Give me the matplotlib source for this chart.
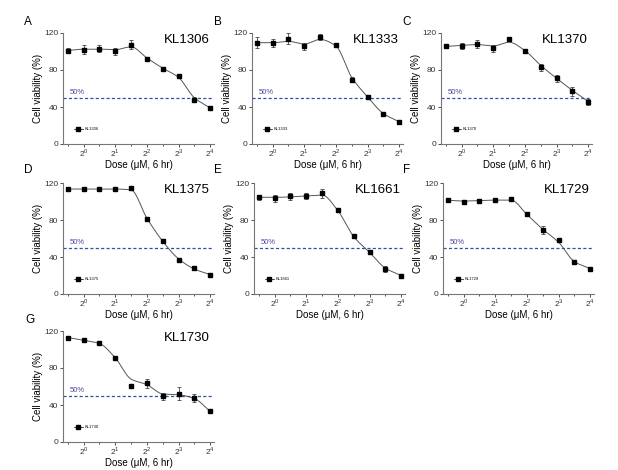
import numpy as np
import matplotlib
matplotlib.use('Agg')
import matplotlib.pyplot as plt

plt.rcParams['font.family'] = ['Liberation Sans', 'DejaVu Sans']
plt.rcParams['mathtext.fontset'] = 'custom'
plt.rcParams['mathtext.rm'] = 'Liberation Sans'

# dose as log2(uM)
dose = [-0.5, 0, 0.5, 1, 1.5, 2, 2.5, 3, 3.5, 4]

letters = ['A', 'B', 'C', 'D', 'E', 'F', 'G']
names = ['KL1306', 'KL1333', 'KL1370', 'KL1375', 'KL1661', 'KL1729', 'KL1730']

via_A = [101, 102, 103, 100, 107.5, 92, 81, 73, 48, 39]
err_A = [3, 5, 4, 4, 5, 2, 2, 2, 3, 2]
fit_A = [101, 102.5, 102.5, 102, 105, 93, 82, 72, 50, 39]

via_B = [109.5, 109, 114, 105.5, 115.5, 107, 69.5, 51, 32, 23.5]
err_B = [6, 4, 6, 4, 3, 2, 3, 2, 2, 1]
fit_B = [109.5, 109.5, 111, 108, 113, 106, 72, 51, 33, 24]

via_C = [105.5, 106, 108, 103.5, 113, 101, 83, 71, 57, 45.5]
err_C = [2, 3, 4, 4, 2, 1, 4, 4, 5, 3]
fit_C = [105.5, 106.5, 107.5, 106, 110, 101, 85, 71, 58, 46]

via_D = [113.5, 113.5, 113.5, 113, 114.5, 81.5, 57.5, 37, 28, 21]
err_D = [2, 2, 1, 1, 2, 1, 1, 2, 2, 1]
fit_D = [113.5, 113.5, 113.5, 113.5, 112.5, 82, 57, 38, 27, 21]

via_E = [104.5, 103.5, 105.5, 106, 109, 90.5, 63, 45.5, 27, 20]
err_E = [3, 4, 4, 3, 5, 2, 2, 2, 3, 1]
fit_E = [104.5, 104.5, 105, 106, 107, 90, 62, 45, 28, 20]

via_F = [102, 100, 100.5, 102, 103, 86, 69, 58, 34.5, 27.5]
err_F = [1, 2, 1, 1, 2, 2, 4, 2, 1, 1]
fit_F = [101.5, 100.5, 101, 101.5, 101.5, 86, 70, 56, 35, 27.5]

via_G = [112.5, 110, 107.5, 91, 60.5, 63.5, 49.5, 52, 47.5, 33]
err_G = [2, 2, 2, 2, 2, 5, 4, 7, 4, 1]
fit_G = [113, 110, 106.5, 91, 68, 62, 52, 51, 47, 33]

vias = [via_A, via_B, via_C, via_D, via_E, via_F, via_G]
errs = [err_A, err_B, err_C, err_D, err_E, err_F, err_G]
fits = [fit_A, fit_B, fit_C, fit_D, fit_E, fit_F, fit_G]


def pchip(x, y, xn):
    x = np.asarray(x, float)
    y = np.asarray(y, float)
    h = np.diff(x)
    d = np.diff(y) / h
    m = np.zeros_like(y)
    m[0] = d[0]
    m[-1] = d[-1]
    for i in range(1, len(y) - 1):
        if d[i - 1] * d[i] > 0:
            m[i] = 2 * d[i - 1] * d[i] / (d[i - 1] + d[i])
    idx = np.clip(np.searchsorted(x, xn) - 1, 0, len(h) - 1)
    t = (xn - x[idx]) / h[idx]
    h00 = 2 * t**3 - 3 * t**2 + 1
    h10 = t**3 - 2 * t**2 + t
    h01 = -2 * t**3 + 3 * t**2
    h11 = t**3 - t**2
    return h00 * y[idx] + h10 * h[idx] * m[idx] + h01 * y[idx + 1] + h11 * h[idx] * m[idx + 1]


W, H = 618, 470
fig = plt.figure(figsize=(W / 100, H / 100), dpi=100)

lefts = [63, 252, 441, 63, 254, 443, 63]
tops = [33, 33, 33, 183, 183, 183, 331]
letter_pos = [(28, 22), (218, 22), (407, 22), (28, 170), (218, 170), (407, 170), (30, 320)]
aw, ah = 151, 111

xs = np.linspace(dose[0], dose[-1], 300)

for k in range(7):
    ax = fig.add_axes([lefts[k] / W, 1 - (tops[k] + ah) / H, aw / W, ah / H])
    ax.plot(xs, pchip(dose, fits[k], xs), color='#555555', lw=0.7, zorder=2)
    ax.errorbar(dose, vias[k], yerr=errs[k], fmt='s', color='black', ms=3.0,
                elinewidth=0.6, ecolor='#444444', capsize=1.5, capthick=0.6, zorder=3)
    ax.plot([], [], '-s', color='black', ms=2.2, lw=0.5, label=names[k])
    ax.axhline(50, color='#3050a0', lw=0.9, ls=(0, (2.5, 1.8)), zorder=1)
    ax.text(-0.45, 52, '50%', color='#4a4aa0', fontsize=5.5, va='bottom')
    ax.text(0.97, 0.94, names[k], transform=ax.transAxes, ha='right', va='center', fontsize=9.5)
    ax.legend(loc='lower left', bbox_to_anchor=(0.06, 0.1), frameon=False, fontsize=3,
              handlelength=2.2, handletextpad=0.3, borderaxespad=0)

    ax.set_xlim(-0.65, 4.12)
    ax.set_ylim(0, 120)
    ax.set_yticks([0, 40, 80, 120])
    ax.set_xticks([0, 1, 2, 3, 4])
    ax.set_xticklabels(['$2^{%d}$' % i for i in range(5)])
    ax.set_xticks([-0.5, 0.5, 1.5, 2.5, 3.5], minor=True)
    ax.tick_params(labelsize=6, length=2, width=0.6, colors='#333333', pad=1.5)
    ax.tick_params(axis='x', pad=0.5)
    ax.tick_params(which='minor', length=1.5, width=0.6, colors='#333333')
    for s in ['top', 'right']:
        ax.spines[s].set_visible(False)
    for s in ['left', 'bottom']:
        ax.spines[s].set_color('#777777')
        ax.spines[s].set_linewidth(0.8)
    ax.set_ylabel('Cell viability (%)', fontsize=7, labelpad=1)
    ax.set_xlabel('Dose (\u03bcM, 6 hr)', fontsize=7, labelpad=0.5)

    lx, ly = letter_pos[k]
    fig.text(lx / W, 1 - ly / H, letters[k], fontsize=8.5, ha='center', va='center')

plt.savefig('out.png', dpi=100)
